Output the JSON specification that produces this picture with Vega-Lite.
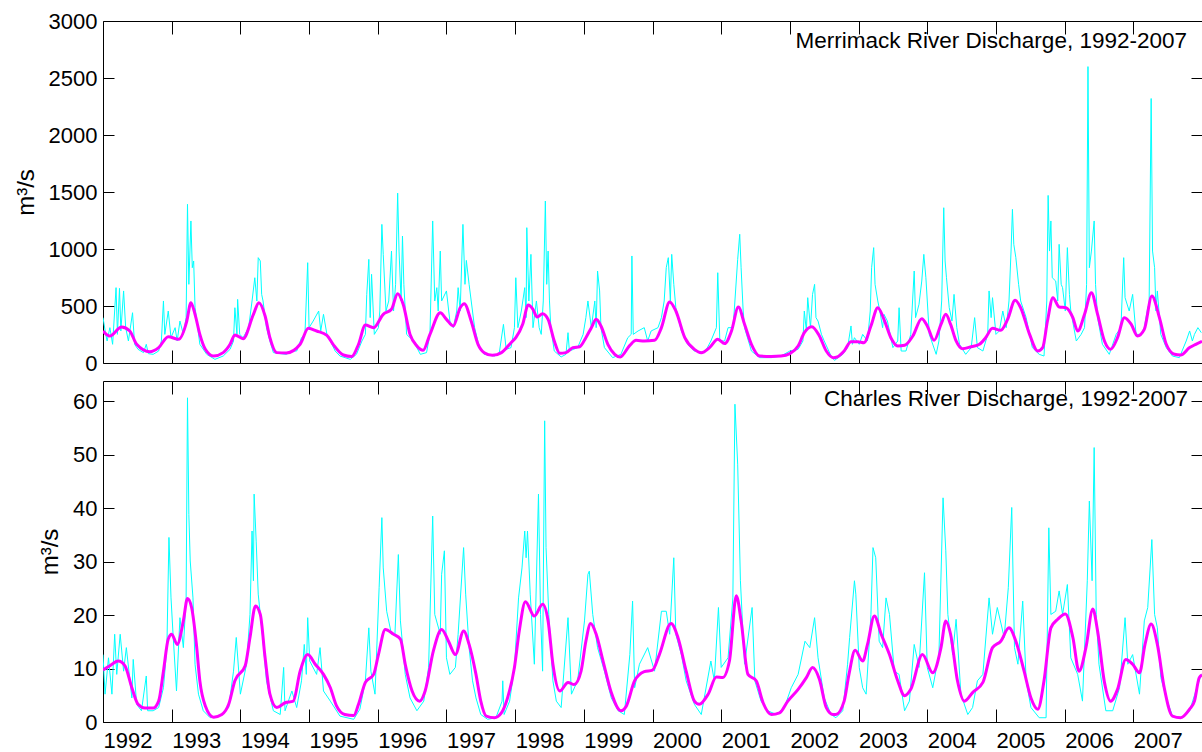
{
  "$schema": "https://vega.github.io/schema/vega-lite/v6.json",
  "padding": {"left": 13, "top": 9, "right": 0, "bottom": 0},
  "autosize": {"type": "pad"},
  "background": "white",
  "spacing": 18,
  "bounds": "flush",
  "config": {
    "font": "Liberation Sans",
    "view": {"stroke": "black", "strokeWidth": 1},
    "axis": {"domain": false, "grid": false, "tickColor": "black", "tickWidth": 1, "labelColor": "black", "labelFont": "Liberation Sans", "labelFontSize": 22, "titleFont": "Liberation Sans", "titleFontSize": 24, "titleFontWeight": "normal", "titleColor": "black", "labelFlush": false, "labelOverlap": false, "labelBound": false}
  },
  "datasets": {
    "mer_raw": [
      {"t":1992.00,"q":398},{"t":1992.04,"q":251},{"t":1992.06,"q":193},{"t":1992.10,"q":310},{"t":1992.14,"q":164},{"t":1992.19,"q":661},{"t":1992.21,"q":251},{"t":1992.24,"q":655},{"t":1992.26,"q":281},{"t":1992.30,"q":632},{"t":1992.33,"q":310},{"t":1992.37,"q":193},{"t":1992.43,"q":441},{"t":1992.46,"q":164},{"t":1992.51,"q":120},{"t":1992.59,"q":91},{"t":1992.63,"q":164},{"t":1992.66,"q":82},{"t":1992.73,"q":76},{"t":1992.81,"q":105},{"t":1992.85,"q":193},{"t":1992.88,"q":544},{"t":1992.90,"q":251},{"t":1992.95,"q":456},{"t":1992.99,"q":222},
      {"t":1993.05,"q":310},{"t":1993.08,"q":193},{"t":1993.12,"q":368},{"t":1993.17,"q":251},{"t":1993.21,"q":398},{"t":1993.23,"q":1392},{"t":1993.25,"q":690},{"t":1993.28,"q":1246},{"t":1993.30,"q":836},{"t":1993.32,"q":895},{"t":1993.34,"q":485},{"t":1993.36,"q":398},{"t":1993.41,"q":164},{"t":1993.51,"q":76},{"t":1993.63,"q":32},{"t":1993.75,"q":61},{"t":1993.85,"q":120},{"t":1993.90,"q":193},{"t":1993.92,"q":485},{"t":1993.95,"q":251},{"t":1993.96,"q":558},{"t":1993.99,"q":251},
      {"t":1994.04,"q":222},{"t":1994.12,"q":310},{"t":1994.17,"q":544},{"t":1994.21,"q":748},{"t":1994.24,"q":544},{"t":1994.26,"q":924},{"t":1994.29,"q":895},{"t":1994.31,"q":602},{"t":1994.33,"q":544},{"t":1994.38,"q":310},{"t":1994.43,"q":193},{"t":1994.48,"q":91},{"t":1994.58,"q":82},{"t":1994.67,"q":76},{"t":1994.75,"q":105},{"t":1994.82,"q":105},{"t":1994.89,"q":222},{"t":1994.94,"q":251},{"t":1994.98,"q":880},
      {"t":1995.00,"q":310},{"t":1995.06,"q":368},{"t":1995.14,"q":456},{"t":1995.17,"q":281},{"t":1995.21,"q":427},{"t":1995.26,"q":251},{"t":1995.31,"q":193},{"t":1995.38,"q":105},{"t":1995.45,"q":61},{"t":1995.60,"q":32},{"t":1995.69,"q":76},{"t":1995.77,"q":193},{"t":1995.82,"q":251},{"t":1995.84,"q":602},{"t":1995.87,"q":909},{"t":1995.89,"q":398},{"t":1995.91,"q":778},{"t":1995.95,"q":251},
      {"t":1996.01,"q":310},{"t":1996.03,"q":456},{"t":1996.06,"q":1216},{"t":1996.08,"q":953},{"t":1996.12,"q":456},{"t":1996.16,"q":544},{"t":1996.20,"q":982},{"t":1996.23,"q":456},{"t":1996.26,"q":690},{"t":1996.29,"q":1490},{"t":1996.31,"q":982},{"t":1996.34,"q":544},{"t":1996.36,"q":1114},{"t":1996.38,"q":690},{"t":1996.42,"q":251},{"t":1996.52,"q":193},{"t":1996.62,"q":76},{"t":1996.71,"q":91},{"t":1996.76,"q":251},{"t":1996.80,"q":1246},{"t":1996.83,"q":544},{"t":1996.86,"q":661},{"t":1996.88,"q":456},{"t":1996.91,"q":982},{"t":1996.93,"q":544},
      {"t":1997.00,"q":632},{"t":1997.05,"q":368},{"t":1997.10,"q":310},{"t":1997.15,"q":456},{"t":1997.17,"q":661},{"t":1997.20,"q":456},{"t":1997.24,"q":1216},{"t":1997.27,"q":690},{"t":1997.29,"q":900},{"t":1997.33,"q":690},{"t":1997.41,"q":310},{"t":1997.48,"q":135},{"t":1997.55,"q":76},{"t":1997.70,"q":61},{"t":1997.77,"q":91},{"t":1997.83,"q":339},{"t":1997.87,"q":120},{"t":1997.94,"q":135},{"t":1997.99,"q":310},
      {"t":1998.01,"q":748},{"t":1998.04,"q":310},{"t":1998.09,"q":456},{"t":1998.14,"q":661},{"t":1998.16,"q":398},{"t":1998.17,"q":1187},{"t":1998.20,"q":544},{"t":1998.23,"q":953},{"t":1998.26,"q":310},{"t":1998.31,"q":544},{"t":1998.35,"q":310},{"t":1998.38,"q":251},{"t":1998.41,"q":544},{"t":1998.44,"q":1421},{"t":1998.46,"q":690},{"t":1998.48,"q":982},{"t":1998.50,"q":544},{"t":1998.52,"q":310},{"t":1998.57,"q":105},{"t":1998.67,"q":53},{"t":1998.74,"q":76},{"t":1998.77,"q":266},{"t":1998.79,"q":105},{"t":1998.91,"q":135},{"t":1998.99,"q":251},
      {"t":1999.03,"q":398},{"t":1999.06,"q":544},{"t":1999.11,"q":310},{"t":1999.16,"q":544},{"t":1999.18,"q":310},{"t":1999.20,"q":807},{"t":1999.23,"q":632},{"t":1999.25,"q":310},{"t":1999.30,"q":135},{"t":1999.42,"q":47},{"t":1999.54,"q":76},{"t":1999.64,"q":222},{"t":1999.69,"q":251},{"t":1999.70,"q":939},{"t":1999.72,"q":251},{"t":1999.79,"q":281},{"t":1999.88,"q":310},{"t":1999.93,"q":193},{"t":1999.98,"q":281},
      {"t":2000.08,"q":310},{"t":2000.13,"q":398},{"t":2000.17,"q":544},{"t":2000.20,"q":836},{"t":2000.23,"q":924},{"t":2000.26,"q":544},{"t":2000.28,"q":953},{"t":2000.31,"q":690},{"t":2000.34,"q":485},{"t":2000.42,"q":281},{"t":2000.51,"q":164},{"t":2000.61,"q":105},{"t":2000.76,"q":91},{"t":2000.85,"q":193},{"t":2000.93,"q":310},{"t":2000.95,"q":792},{"t":2000.98,"q":193},
      {"t":2001.05,"q":193},{"t":2001.10,"q":310},{"t":2001.17,"q":310},{"t":2001.19,"q":456},{"t":2001.24,"q":909},{"t":2001.27,"q":1129},{"t":2001.29,"q":836},{"t":2001.32,"q":456},{"t":2001.34,"q":310},{"t":2001.44,"q":105},{"t":2001.56,"q":47},{"t":2001.73,"q":47},{"t":2001.87,"q":61},
      {"t":2002.00,"q":105},{"t":2002.12,"q":120},{"t":2002.19,"q":193},{"t":2002.21,"q":456},{"t":2002.24,"q":281},{"t":2002.26,"q":573},{"t":2002.30,"q":310},{"t":2002.33,"q":602},{"t":2002.36,"q":690},{"t":2002.38,"q":398},{"t":2002.41,"q":368},{"t":2002.46,"q":251},{"t":2002.50,"q":193},{"t":2002.60,"q":61},{"t":2002.65,"q":23},{"t":2002.77,"q":76},{"t":2002.84,"q":135},{"t":2002.89,"q":325},{"t":2002.91,"q":164},{"t":2002.94,"q":222},
      {"t":2003.01,"q":164},{"t":2003.06,"q":251},{"t":2003.13,"q":193},{"t":2003.17,"q":456},{"t":2003.19,"q":836},{"t":2003.22,"q":1012},{"t":2003.24,"q":690},{"t":2003.28,"q":544},{"t":2003.31,"q":456},{"t":2003.35,"q":310},{"t":2003.37,"q":427},{"t":2003.42,"q":368},{"t":2003.50,"q":135},{"t":2003.57,"q":193},{"t":2003.59,"q":485},{"t":2003.62,"q":105},{"t":2003.69,"q":105},{"t":2003.76,"q":251},{"t":2003.81,"q":807},{"t":2003.83,"q":398},{"t":2003.88,"q":515},{"t":2003.92,"q":719},{"t":2003.95,"q":953},{"t":2003.98,"q":748},
      {"t":2004.03,"q":251},{"t":2004.13,"q":76},{"t":2004.17,"q":193},{"t":2004.21,"q":544},{"t":2004.24,"q":1362},{"t":2004.26,"q":895},{"t":2004.28,"q":748},{"t":2004.32,"q":485},{"t":2004.36,"q":368},{"t":2004.39,"q":602},{"t":2004.43,"q":310},{"t":2004.47,"q":164},{"t":2004.56,"q":76},{"t":2004.64,"q":135},{"t":2004.69,"q":398},{"t":2004.73,"q":135},{"t":2004.81,"q":105},{"t":2004.88,"q":251},{"t":2004.90,"q":632},{"t":2004.93,"q":398},{"t":2004.95,"q":573},
      {"t":2005.00,"q":251},{"t":2005.05,"q":281},{"t":2005.10,"q":456},{"t":2005.15,"q":310},{"t":2005.19,"q":544},{"t":2005.22,"q":982},{"t":2005.24,"q":1348},{"t":2005.26,"q":1041},{"t":2005.29,"q":924},{"t":2005.33,"q":690},{"t":2005.36,"q":544},{"t":2005.44,"q":398},{"t":2005.53,"q":135},{"t":2005.63,"q":76},{"t":2005.70,"q":61},{"t":2005.74,"q":544},{"t":2005.76,"q":1470},{"t":2005.78,"q":982},{"t":2005.80,"q":1246},{"t":2005.82,"q":748},{"t":2005.87,"q":719},{"t":2005.90,"q":544},{"t":2005.92,"q":1041},{"t":2005.95,"q":690},{"t":2005.97,"q":661},
      {"t":2006.01,"q":456},{"t":2006.04,"q":1012},{"t":2006.07,"q":602},{"t":2006.09,"q":456},{"t":2006.17,"q":193},{"t":2006.24,"q":251},{"t":2006.29,"q":310},{"t":2006.32,"q":690},{"t":2006.34,"q":2600},{"t":2006.36,"q":836},{"t":2006.39,"q":982},{"t":2006.43,"q":1246},{"t":2006.45,"q":690},{"t":2006.48,"q":398},{"t":2006.55,"q":164},{"t":2006.65,"q":76},{"t":2006.75,"q":251},{"t":2006.82,"q":310},{"t":2006.86,"q":924},{"t":2006.88,"q":573},{"t":2006.94,"q":456},{"t":2006.99,"q":602},
      {"t":2007.04,"q":251},{"t":2007.11,"q":251},{"t":2007.16,"q":310},{"t":2007.21,"q":485},{"t":2007.23,"q":515},{"t":2007.26,"q":2320},{"t":2007.28,"q":982},{"t":2007.31,"q":836},{"t":2007.33,"q":456},{"t":2007.35,"q":632},{"t":2007.40,"q":251},{"t":2007.48,"q":135},{"t":2007.57,"q":61},{"t":2007.67,"q":47},{"t":2007.77,"q":193},{"t":2007.82,"q":281},{"t":2007.86,"q":193},{"t":2007.89,"q":251},{"t":2007.94,"q":310},{"t":2007.99,"q":266}
    ],
    "mer_smooth": [
      {"t":1992.00,"q":281},{"t":1992.10,"q":237},{"t":1992.27,"q":316},{"t":1992.39,"q":281},{"t":1992.49,"q":164},{"t":1992.68,"q":99},{"t":1992.81,"q":135},{"t":1992.95,"q":231},{"t":1993.10,"q":208},{"t":1993.22,"q":368},{"t":1993.28,"q":529},{"t":1993.34,"q":427},{"t":1993.41,"q":251},{"t":1993.49,"q":120},{"t":1993.61,"q":61},{"t":1993.75,"q":91},{"t":1993.85,"q":164},{"t":1993.92,"q":246},
      {"t":1994.04,"q":213},{"t":1994.19,"q":427},{"t":1994.27,"q":529},{"t":1994.36,"q":412},{"t":1994.43,"q":222},{"t":1994.53,"q":91},{"t":1994.67,"q":88},{"t":1994.87,"q":164},{"t":1994.99,"q":304},{"t":1995.11,"q":281},{"t":1995.26,"q":243},{"t":1995.35,"q":164},{"t":1995.50,"q":70},{"t":1995.62,"q":56},{"t":1995.72,"q":164},{"t":1995.82,"q":333},{"t":1995.94,"q":310},
      {"t":1996.08,"q":427},{"t":1996.20,"q":471},{"t":1996.29,"q":608},{"t":1996.37,"q":515},{"t":1996.47,"q":251},{"t":1996.57,"q":149},{"t":1996.66,"q":111},{"t":1996.76,"q":251},{"t":1996.91,"q":441},{"t":1997.00,"q":383},{"t":1997.10,"q":325},{"t":1997.20,"q":485},{"t":1997.26,"q":520},{"t":1997.36,"q":368},{"t":1997.46,"q":164},{"t":1997.55,"q":91},{"t":1997.67,"q":67},{"t":1997.80,"q":91},{"t":1997.94,"q":178},
      {"t":1998.01,"q":222},{"t":1998.11,"q":339},{"t":1998.19,"q":509},{"t":1998.26,"q":471},{"t":1998.32,"q":403},{"t":1998.40,"q":433},{"t":1998.48,"q":383},{"t":1998.57,"q":193},{"t":1998.65,"q":85},{"t":1998.74,"q":91},{"t":1998.84,"q":135},{"t":1998.94,"q":143},{"t":1999.03,"q":222},{"t":1999.11,"q":310},{"t":1999.18,"q":383},{"t":1999.25,"q":325},{"t":1999.35,"q":164},{"t":1999.45,"q":76},{"t":1999.53,"q":53},{"t":1999.67,"q":155},{"t":1999.76,"q":199},{"t":1999.88,"q":193},
      {"t":2000.03,"q":199},{"t":2000.13,"q":310},{"t":2000.25,"q":535},{"t":2000.34,"q":456},{"t":2000.47,"q":222},{"t":2000.61,"q":120},{"t":2000.71,"q":91},{"t":2000.83,"q":135},{"t":2000.95,"q":208},{"t":2001.05,"q":170},{"t":2001.15,"q":281},{"t":2001.25,"q":491},{"t":2001.34,"q":339},{"t":2001.44,"q":164},{"t":2001.56,"q":61},{"t":2001.73,"q":58},{"t":2001.87,"q":61},
      {"t":2002.00,"q":82},{"t":2002.12,"q":149},{"t":2002.21,"q":266},{"t":2002.32,"q":319},{"t":2002.43,"q":237},{"t":2002.53,"q":105},{"t":2002.63,"q":47},{"t":2002.69,"q":53},{"t":2002.79,"q":105},{"t":2002.89,"q":187},{"t":2002.99,"q":187},{"t":2003.08,"q":178},{"t":2003.18,"q":325},{"t":2003.28,"q":485},{"t":2003.37,"q":383},{"t":2003.47,"q":222},{"t":2003.57,"q":149},{"t":2003.67,"q":155},{"t":2003.79,"q":237},{"t":2003.92,"q":389},
      {"t":2004.00,"q":325},{"t":2004.10,"q":199},{"t":2004.20,"q":339},{"t":2004.27,"q":427},{"t":2004.34,"q":339},{"t":2004.42,"q":193},{"t":2004.51,"q":126},{"t":2004.64,"q":143},{"t":2004.76,"q":164},{"t":2004.85,"q":222},{"t":2004.95,"q":304},{"t":2005.07,"q":287},{"t":2005.17,"q":383},{"t":2005.28,"q":550},{"t":2005.36,"q":485},{"t":2005.49,"q":251},{"t":2005.61,"q":105},{"t":2005.68,"q":135},{"t":2005.75,"q":368},{"t":2005.83,"q":573},{"t":2005.92,"q":491},
      {"t":2006.02,"q":485},{"t":2006.12,"q":398},{"t":2006.19,"q":281},{"t":2006.29,"q":427},{"t":2006.39,"q":617},{"t":2006.48,"q":427},{"t":2006.58,"q":193},{"t":2006.67,"q":120},{"t":2006.77,"q":222},{"t":2006.87,"q":398},{"t":2006.97,"q":339},{"t":2007.06,"q":237},{"t":2007.16,"q":295},{"t":2007.27,"q":588},{"t":2007.38,"q":398},{"t":2007.48,"q":164},{"t":2007.60,"q":76},{"t":2007.69,"q":70},{"t":2007.82,"q":135},{"t":2007.91,"q":164},{"t":2008.00,"q":190}
    ],
    "cha_raw": [
      {"t":1992.00,"q":12.6},{"t":1992.03,"q":5.2},{"t":1992.08,"q":12.0},{"t":1992.13,"q":5.2},{"t":1992.17,"q":16.4},{"t":1992.20,"q":8.9},{"t":1992.25,"q":16.4},{"t":1992.30,"q":9.5},{"t":1992.34,"q":13.9},{"t":1992.42,"q":4.5},{"t":1992.44,"q":11.7},{"t":1992.49,"q":3.3},{"t":1992.56,"q":2.1},{"t":1992.63,"q":8.6},{"t":1992.65,"q":2.1},{"t":1992.73,"q":2.1},{"t":1992.81,"q":2.7},{"t":1992.88,"q":6.4},{"t":1992.93,"q":13.9},{"t":1992.96,"q":34.5},{"t":1992.99,"q":23.2},
      {"t":1993.02,"q":16.4},{"t":1993.07,"q":5.8},{"t":1993.12,"q":19.5},{"t":1993.17,"q":13.9},{"t":1993.21,"q":23.2},{"t":1993.23,"q":60.6},{"t":1993.25,"q":38.8},{"t":1993.27,"q":30.1},{"t":1993.31,"q":23.2},{"t":1993.34,"q":10.8},{"t":1993.39,"q":5.2},{"t":1993.46,"q":2.1},{"t":1993.56,"q":0.8},{"t":1993.70,"q":1.1},{"t":1993.83,"q":2.7},{"t":1993.90,"q":9.5},{"t":1993.94,"q":15.8},
      {"t":1994.00,"q":5.2},{"t":1994.09,"q":10.8},{"t":1994.14,"q":20.1},{"t":1994.17,"q":35.7},{"t":1994.19,"q":26.4},{"t":1994.20,"q":42.6},{"t":1994.23,"q":33.8},{"t":1994.26,"q":23.9},{"t":1994.33,"q":15.1},{"t":1994.38,"q":7.7},{"t":1994.48,"q":2.1},{"t":1994.58,"q":1.4},{"t":1994.63,"q":10.2},{"t":1994.65,"q":2.1},{"t":1994.75,"q":5.8},{"t":1994.82,"q":2.7},{"t":1994.89,"q":7.7},{"t":1994.93,"q":14.5},{"t":1994.96,"q":8.9},{"t":1994.98,"q":19.5},
      {"t":1995.01,"q":11.4},{"t":1995.11,"q":8.9},{"t":1995.16,"q":13.9},{"t":1995.21,"q":5.8},{"t":1995.31,"q":3.9},{"t":1995.45,"q":1.1},{"t":1995.65,"q":0.5},{"t":1995.74,"q":2.4},{"t":1995.82,"q":7.7},{"t":1995.87,"q":17.6},{"t":1995.90,"q":9.5},{"t":1995.96,"q":5.2},
      {"t":1996.02,"q":25.1},{"t":1996.06,"q":38.2},{"t":1996.08,"q":28.8},{"t":1996.13,"q":20.7},{"t":1996.20,"q":16.4},{"t":1996.25,"q":16.4},{"t":1996.30,"q":31.3},{"t":1996.33,"q":18.9},{"t":1996.40,"q":8.9},{"t":1996.47,"q":4.5},{"t":1996.57,"q":2.1},{"t":1996.67,"q":3.9},{"t":1996.74,"q":10.2},{"t":1996.80,"q":38.5},{"t":1996.83,"q":20.1},{"t":1996.91,"q":16.4},{"t":1996.93,"q":27.6},{"t":1996.97,"q":32.0},
      {"t":1997.00,"q":12.0},{"t":1997.05,"q":8.9},{"t":1997.13,"q":10.2},{"t":1997.17,"q":16.4},{"t":1997.25,"q":32.6},{"t":1997.28,"q":23.9},{"t":1997.33,"q":13.9},{"t":1997.38,"q":7.7},{"t":1997.43,"q":4.5},{"t":1997.50,"q":1.4},{"t":1997.60,"q":0.5},{"t":1997.72,"q":0.8},{"t":1997.81,"q":3.9},{"t":1997.82,"q":7.7},{"t":1997.84,"q":1.4},{"t":1997.92,"q":3.9},{"t":1997.99,"q":10.2},
      {"t":1998.05,"q":23.2},{"t":1998.10,"q":28.8},{"t":1998.14,"q":35.7},{"t":1998.16,"q":30.7},{"t":1998.18,"q":35.7},{"t":1998.22,"q":23.9},{"t":1998.28,"q":10.8},{"t":1998.34,"q":42.6},{"t":1998.37,"q":20.1},{"t":1998.40,"q":9.5},{"t":1998.43,"q":56.3},{"t":1998.45,"q":32.6},{"t":1998.49,"q":20.1},{"t":1998.55,"q":7.7},{"t":1998.60,"q":3.9},{"t":1998.67,"q":2.7},{"t":1998.77,"q":19.5},{"t":1998.82,"q":5.2},{"t":1998.91,"q":7.7},
      {"t":1999.01,"q":18.9},{"t":1999.06,"q":27.6},{"t":1999.08,"q":28.2},{"t":1999.13,"q":20.1},{"t":1999.20,"q":13.9},{"t":1999.30,"q":9.5},{"t":1999.40,"q":4.5},{"t":1999.50,"q":2.1},{"t":1999.59,"q":1.4},{"t":1999.67,"q":12.6},{"t":1999.71,"q":22.6},{"t":1999.74,"q":6.4},{"t":1999.81,"q":10.8},{"t":1999.93,"q":13.9},
      {"t":2000.03,"q":9.5},{"t":2000.13,"q":20.7},{"t":2000.20,"q":20.7},{"t":2000.25,"q":16.4},{"t":2000.31,"q":30.7},{"t":2000.34,"q":16.4},{"t":2000.42,"q":12.6},{"t":2000.49,"q":7.7},{"t":2000.61,"q":3.3},{"t":2000.71,"q":1.4},{"t":2000.85,"q":11.4},{"t":2000.90,"q":7.7},{"t":2000.96,"q":21.4},
      {"t":2001.00,"q":10.2},{"t":2001.10,"q":12.0},{"t":2001.17,"q":23.2},{"t":2001.20,"q":59.4},{"t":2001.24,"q":48.2},{"t":2001.28,"q":26.4},{"t":2001.34,"q":10.8},{"t":2001.45,"q":21.4},{"t":2001.49,"q":7.7},{"t":2001.58,"q":3.9},{"t":2001.68,"q":2.1},{"t":2001.80,"q":1.4},{"t":2001.92,"q":2.7},
      {"t":2002.02,"q":6.4},{"t":2002.12,"q":8.9},{"t":2002.22,"q":15.1},{"t":2002.29,"q":13.9},{"t":2002.36,"q":19.5},{"t":2002.41,"q":12.0},{"t":2002.50,"q":4.5},{"t":2002.60,"q":1.4},{"t":2002.67,"q":0.8},{"t":2002.77,"q":2.1},{"t":2002.84,"q":10.8},{"t":2002.87,"q":15.8},{"t":2002.94,"q":26.4},{"t":2002.96,"q":23.9},
      {"t":2003.01,"q":10.2},{"t":2003.06,"q":6.4},{"t":2003.11,"q":5.2},{"t":2003.18,"q":20.1},{"t":2003.21,"q":32.6},{"t":2003.25,"q":30.7},{"t":2003.30,"q":15.1},{"t":2003.35,"q":13.9},{"t":2003.40,"q":23.2},{"t":2003.45,"q":20.1},{"t":2003.52,"q":9.5},{"t":2003.59,"q":8.9},{"t":2003.67,"q":2.1},{"t":2003.74,"q":3.9},{"t":2003.81,"q":14.5},{"t":2003.88,"q":10.2},{"t":2003.96,"q":27.9},
      {"t":2004.00,"q":10.2},{"t":2004.08,"q":6.4},{"t":2004.17,"q":12.6},{"t":2004.23,"q":41.9},{"t":2004.27,"q":32.0},{"t":2004.30,"q":20.1},{"t":2004.37,"q":12.6},{"t":2004.42,"q":19.2},{"t":2004.49,"q":5.2},{"t":2004.59,"q":1.4},{"t":2004.66,"q":2.7},{"t":2004.73,"q":7.7},{"t":2004.81,"q":8.9},{"t":2004.90,"q":23.2},{"t":2004.95,"q":16.4},
      {"t":2005.02,"q":21.4},{"t":2005.12,"q":15.8},{"t":2005.18,"q":25.1},{"t":2005.23,"q":40.1},{"t":2005.27,"q":13.9},{"t":2005.32,"q":10.8},{"t":2005.39,"q":22.6},{"t":2005.44,"q":7.7},{"t":2005.51,"q":2.7},{"t":2005.63,"q":0.8},{"t":2005.73,"q":0.8},{"t":2005.77,"q":36.3},{"t":2005.80,"q":20.1},{"t":2005.87,"q":20.7},{"t":2005.92,"q":24.5},{"t":2005.97,"q":20.1},
      {"t":2006.04,"q":25.7},{"t":2006.09,"q":12.0},{"t":2006.19,"q":8.9},{"t":2006.26,"q":3.9},{"t":2006.33,"q":26.4},{"t":2006.36,"q":41.3},{"t":2006.40,"q":26.4},{"t":2006.43,"q":51.3},{"t":2006.46,"q":20.1},{"t":2006.50,"q":10.8},{"t":2006.60,"q":2.1},{"t":2006.70,"q":2.1},{"t":2006.80,"q":6.4},{"t":2006.88,"q":19.5},{"t":2006.92,"q":10.8},{"t":2006.99,"q":12.6},
      {"t":2007.09,"q":5.2},{"t":2007.16,"q":18.9},{"t":2007.21,"q":21.4},{"t":2007.27,"q":34.1},{"t":2007.31,"q":20.1},{"t":2007.35,"q":17.6},{"t":2007.40,"q":8.3},{"t":2007.48,"q":4.5},{"t":2007.57,"q":1.1},{"t":2007.72,"q":0.8},{"t":2007.82,"q":2.1},{"t":2007.91,"q":5.8},{"t":2007.99,"q":8.9}
    ],
    "cha_smooth": [
      {"t":1992.00,"q":9.7},{"t":1992.10,"q":10.5},{"t":1992.22,"q":11.4},{"t":1992.32,"q":10.5},{"t":1992.42,"q":6.4},{"t":1992.51,"q":3.3},{"t":1992.61,"q":2.6},{"t":1992.73,"q":2.6},{"t":1992.81,"q":3.9},{"t":1992.88,"q":9.5},{"t":1992.95,"q":15.5},{"t":1993.00,"q":16.4},{"t":1993.08,"q":14.5},{"t":1993.17,"q":18.9},{"t":1993.23,"q":23.1},{"t":1993.29,"q":21.4},{"t":1993.36,"q":14.5},{"t":1993.41,"q":7.7},{"t":1993.49,"q":3.0},{"t":1993.61,"q":0.9},{"t":1993.73,"q":1.4},{"t":1993.83,"q":3.3},{"t":1993.92,"q":7.7},
      {"t":1994.07,"q":10.5},{"t":1994.14,"q":15.8},{"t":1994.22,"q":21.7},{"t":1994.29,"q":20.1},{"t":1994.36,"q":12.0},{"t":1994.43,"q":5.2},{"t":1994.53,"q":2.7},{"t":1994.65,"q":3.6},{"t":1994.77,"q":3.9},{"t":1994.87,"q":9.5},{"t":1994.98,"q":12.6},{"t":1995.09,"q":10.8},{"t":1995.21,"q":8.9},{"t":1995.31,"q":6.4},{"t":1995.40,"q":3.0},{"t":1995.52,"q":1.4},{"t":1995.65,"q":1.2},{"t":1995.72,"q":3.3},{"t":1995.82,"q":7.4},{"t":1995.94,"q":8.9},
      {"t":1996.01,"q":12.6},{"t":1996.11,"q":17.3},{"t":1996.23,"q":16.4},{"t":1996.33,"q":15.5},{"t":1996.40,"q":10.8},{"t":1996.50,"q":5.8},{"t":1996.61,"q":3.9},{"t":1996.69,"q":5.8},{"t":1996.81,"q":13.3},{"t":1996.93,"q":17.3},{"t":1997.03,"q":15.1},{"t":1997.13,"q":12.6},{"t":1997.25,"q":17.0},{"t":1997.33,"q":14.5},{"t":1997.43,"q":8.9},{"t":1997.50,"q":3.9},{"t":1997.58,"q":1.1},{"t":1997.70,"q":0.8},{"t":1997.80,"q":1.7},{"t":1997.89,"q":4.5},{"t":1997.99,"q":10.2},
      {"t":1998.06,"q":17.0},{"t":1998.15,"q":22.5},{"t":1998.28,"q":19.8},{"t":1998.40,"q":22.0},{"t":1998.48,"q":18.9},{"t":1998.55,"q":10.8},{"t":1998.65,"q":5.8},{"t":1998.77,"q":7.4},{"t":1998.86,"q":7.0},{"t":1998.96,"q":9.5},{"t":1999.03,"q":15.1},{"t":1999.10,"q":18.4},{"t":1999.18,"q":16.4},{"t":1999.28,"q":11.4},{"t":1999.40,"q":5.5},{"t":1999.54,"q":2.1},{"t":1999.62,"q":3.0},{"t":1999.74,"q":7.7},{"t":1999.88,"q":9.4},
      {"t":2000.00,"q":9.7},{"t":2000.10,"q":12.6},{"t":2000.27,"q":18.4},{"t":2000.37,"q":15.8},{"t":2000.49,"q":9.5},{"t":2000.61,"q":3.9},{"t":2000.68,"q":3.3},{"t":2000.81,"q":5.2},{"t":2000.93,"q":8.4},{"t":2001.02,"q":8.3},{"t":2001.12,"q":11.4},{"t":2001.22,"q":23.6},{"t":2001.29,"q":18.9},{"t":2001.39,"q":8.9},{"t":2001.51,"q":7.7},{"t":2001.61,"q":3.6},{"t":2001.73,"q":1.4},{"t":2001.85,"q":1.7},{"t":2001.97,"q":3.9},
      {"t":2002.12,"q":6.1},{"t":2002.24,"q":8.3},{"t":2002.33,"q":10.2},{"t":2002.43,"q":8.0},{"t":2002.53,"q":2.7},{"t":2002.63,"q":1.4},{"t":2002.67,"q":1.4},{"t":2002.79,"q":3.9},{"t":2002.86,"q":8.9},{"t":2002.95,"q":13.4},{"t":2003.06,"q":11.4},{"t":2003.13,"q":14.5},{"t":2003.23,"q":19.8},{"t":2003.33,"q":16.4},{"t":2003.45,"q":12.6},{"t":2003.57,"q":7.7},{"t":2003.67,"q":4.9},{"t":2003.76,"q":6.1},{"t":2003.93,"q":12.6},
      {"t":2004.08,"q":9.2},{"t":2004.20,"q":13.9},{"t":2004.27,"q":18.9},{"t":2004.34,"q":16.4},{"t":2004.44,"q":7.7},{"t":2004.54,"q":3.9},{"t":2004.66,"q":5.5},{"t":2004.81,"q":7.4},{"t":2004.95,"q":13.9},{"t":2005.07,"q":15.1},{"t":2005.19,"q":17.6},{"t":2005.29,"q":15.1},{"t":2005.41,"q":9.5},{"t":2005.51,"q":4.5},{"t":2005.61,"q":2.4},{"t":2005.70,"q":7.7},{"t":2005.80,"q":17.6},{"t":2005.90,"q":19.2},
      {"t":2006.01,"q":20.2},{"t":2006.12,"q":15.8},{"t":2006.21,"q":9.5},{"t":2006.31,"q":13.9},{"t":2006.41,"q":21.1},{"t":2006.48,"q":17.0},{"t":2006.58,"q":7.4},{"t":2006.67,"q":3.9},{"t":2006.77,"q":6.1},{"t":2006.89,"q":11.7},{"t":2006.99,"q":10.8},{"t":2007.09,"q":9.2},{"t":2007.17,"q":14.5},{"t":2007.26,"q":18.3},{"t":2007.35,"q":14.5},{"t":2007.45,"q":6.4},{"t":2007.57,"q":1.1},{"t":2007.69,"q":0.8},{"t":2007.82,"q":2.4},{"t":2007.89,"q":3.9},{"t":2007.96,"q":8.3},{"t":2008.00,"q":8.8}
    ]
  },
  "vconcat": [
    {
      "width": 1099,
      "height": 342,
      "layer": [
        {
          "data": {"name": "mer_raw"},
          "mark": {"type": "line", "color": "#00FFFF", "strokeWidth": 1, "clip": true},
          "encoding": {
            "x": {"field": "t", "type": "quantitative", "scale": {"domain": [1992, 2008], "nice": false, "zero": false},
                  "axis": {"orient": "bottom", "labels": false, "title": null, "values": [1993,1994,1995,1996,1997,1998,1999,2000,2001,2002,2003,2004,2005,2006,2007], "tickSize": -13}},
            "y": {"field": "q", "type": "quantitative", "scale": {"domain": [0, 3000], "nice": false},
                  "axis": {"orient": "left", "values": [0,500,1000,1500,2000,2500,3000], "format": "d", "tickSize": -11, "labelPadding": 17, "title": "m³/s", "titleX": -70, "titleBaseline": "alphabetic"}}
          }
        },
        {
          "data": {"name": "mer_smooth"},
          "mark": {"type": "line", "color": "#FF00FF", "strokeWidth": 3, "interpolate": "monotone", "clip": true},
          "encoding": {
            "x": {"field": "t", "type": "quantitative", "axis": {"orient": "top", "labels": false, "title": null, "values": [1993,1994,1995,1996,1997,1998,1999,2000,2001,2002,2003,2004,2005,2006,2007], "tickSize": -13}},
            "y": {"field": "q", "type": "quantitative", "axis": {"orient": "right", "labels": false, "title": null, "values": [500,1000,1500,2000,2500], "tickSize": -11}}
          }
        },
        {
          "data": {"values": [{"label": "Merrimack River Discharge, 1992-2007"}]},
          "mark": {"type": "text", "align": "right", "baseline": "middle", "dx": -15, "dy": 20, "fontSize": 22.5, "font": "Liberation Sans", "color": "black"},
          "encoding": {
            "text": {"field": "label"},
            "x": {"datum": 2008, "type": "quantitative", "axis": null},
            "y": {"datum": 3000, "type": "quantitative", "axis": null}
          }
        }
      ],
      "resolve": {"axis": {"x": "independent", "y": "independent"}}
    },
    {
      "width": 1099,
      "height": 341,
      "layer": [
        {
          "data": {"name": "cha_raw"},
          "mark": {"type": "line", "color": "#00FFFF", "strokeWidth": 1, "clip": true},
          "encoding": {
            "x": {"field": "t", "type": "quantitative", "scale": {"domain": [1992, 2008], "nice": false, "zero": false},
                  "axis": {"orient": "bottom", "title": null, "values": [1992,1993,1994,1995,1996,1997,1998,1999,2000,2001,2002,2003,2004,2005,2006,2007], "format": "d", "labelAlign": "left", "labelBaseline": "top", "tickSize": -13, "labelPadding": 21}},
            "y": {"field": "q", "type": "quantitative", "scale": {"domain": [0, 63.74], "nice": false},
                  "axis": {"orient": "left", "values": [0,10,20,30,40,50,60], "format": "d", "tickSize": -11, "labelPadding": 17, "title": "m³/s", "titleX": -46, "titleBaseline": "alphabetic"}}
          }
        },
        {
          "data": {"name": "cha_smooth"},
          "mark": {"type": "line", "color": "#FF00FF", "strokeWidth": 3, "interpolate": "monotone", "clip": true},
          "encoding": {
            "x": {"field": "t", "type": "quantitative", "axis": {"orient": "top", "labels": false, "title": null, "values": [1993,1994,1995,1996,1997,1998,1999,2000,2001,2002,2003,2004,2005,2006,2007], "tickSize": -13}},
            "y": {"field": "q", "type": "quantitative", "axis": {"orient": "right", "labels": false, "title": null, "values": [10,20,30,40,50,60], "tickSize": -11}}
          }
        },
        {
          "data": {"values": [{"label": "Charles River Discharge, 1992-2007"}]},
          "mark": {"type": "text", "align": "right", "baseline": "middle", "dx": -14, "dy": 18, "fontSize": 22.5, "font": "Liberation Sans", "color": "black"},
          "encoding": {
            "text": {"field": "label"},
            "x": {"datum": 2008, "type": "quantitative", "axis": null},
            "y": {"datum": 63.74, "type": "quantitative", "axis": null}
          }
        }
      ],
      "resolve": {"axis": {"x": "independent", "y": "independent"}}
    }
  ]
}
